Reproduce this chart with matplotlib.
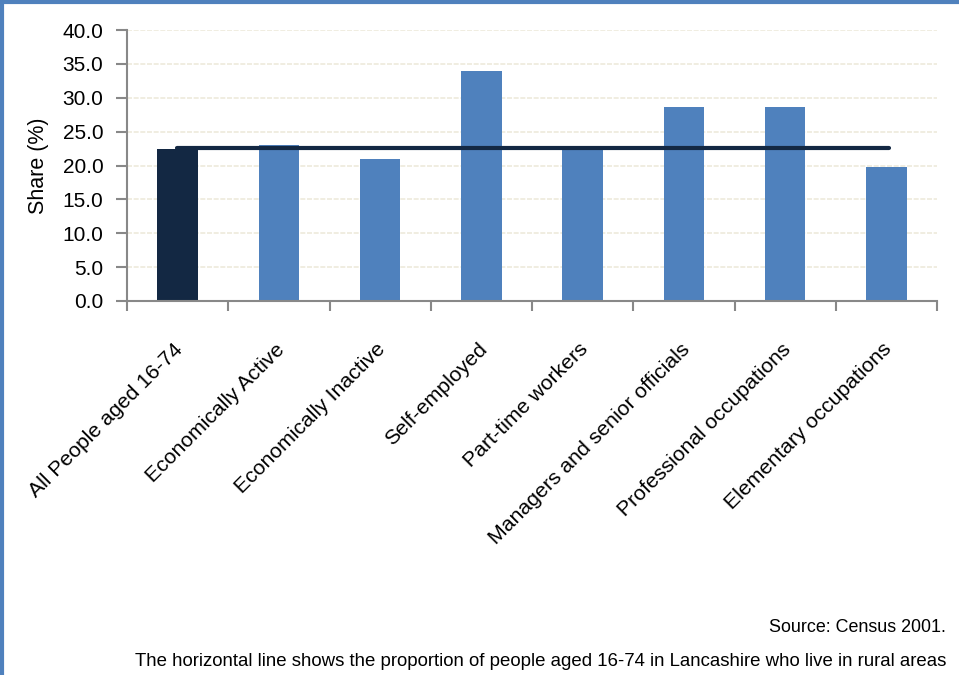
import matplotlib
matplotlib.use("Agg")
import matplotlib.pyplot as plt
from matplotlib.lines import Line2D
import numpy as np

categories = ["All People aged 16-74", "Economically Active", "Economically Inactive",
              "Self-employed", "Part-time workers", "Managers and senior officials",
              "Professional occupations", "Elementary occupations"]
values = [22.4, 23.0, 21.0, 33.9, 22.6, 28.6, 28.6, 19.8]
reference_line = 22.6
yticks = [0, 5, 10, 15, 20, 25, 30, 35, 40]

plt.rcParams['font.family'] = ['Liberation Sans', 'DejaVu Sans']

fig = plt.figure(figsize=(9.59, 6.75), dpi=100)
ax = fig.add_axes([127/959, 1-301/675, (937-127)/959, (301-30)/675])

x = np.arange(len(categories))
colors = ['#132843'] + ['#4F81BD'] * (len(categories) - 1)
ax.bar(x, values, width=0.4, color=colors, zorder=2)
ax.plot([x[0] - 0.01, x[-1] + 0.03], [reference_line, reference_line],
        color='#132843', lw=3, zorder=3, solid_capstyle='round')

ax.set_xlim(-0.5, len(categories) - 0.5)
ax.set_ylim(0, 40)
ax.set_yticks(yticks)
ax.set_yticklabels([f"{v:.1f}" for v in yticks], fontsize=15)
for v in yticks[1:]:
    ax.axhline(v, color='#EEEADB', lw=1.2, ls=(0, (3, 1)), zorder=1)

ax.set_xticks(np.arange(len(categories) + 1) - 0.5)
ax.set_xticklabels([])
ax.tick_params(axis='x', direction='out', length=7, width=1.5, color='#888888')
ax.tick_params(axis='y', direction='out', length=8, width=1.5, color='#888888', pad=9)
for s in ['top', 'right']:
    ax.spines[s].set_visible(False)
for s in ['left', 'bottom']:
    ax.spines[s].set_color('#888888')
    ax.spines[s].set_linewidth(1.5)

for i, c in enumerate(categories):
    ax.text(i - 0.04, -5.7, c, rotation=45, ha='right', va='top',
            rotation_mode='anchor', fontsize=15.3, transform=ax.transData)

ax.set_ylabel("Share (%)", fontsize=15.5, labelpad=10)

fig.text(946/959, 1-628/675, "Source: Census 2001.", ha='right', va='center', fontsize=12.9)
fig.text(946/959, 1-662/675,
         "The horizontal line shows the proportion of people aged 16-74 in Lancashire who live in rural areas",
         ha='right', va='center', fontsize=13.4)

fig.add_artist(Line2D([1.5/959, 1.5/959], [0, 1], transform=fig.transFigure, color='#4F81BD', lw=3))
fig.add_artist(Line2D([0, 1], [1-1.5/675, 1-1.5/675], transform=fig.transFigure, color='#4F81BD', lw=3))

fig.savefig("out.png", dpi=100)
